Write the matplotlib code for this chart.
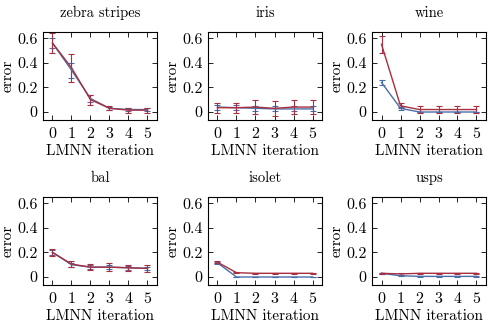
import numpy as np
import matplotlib
matplotlib.use("Agg")
import matplotlib.pyplot as plt

plt.rcParams['font.family'] = 'serif'
plt.rcParams['font.serif'] = ['cmr10', 'DejaVu Serif']
plt.rcParams['axes.formatter.use_mathtext'] = True

iterations = [0, 1, 2, 3, 4, 5]
titles = ['zebra stripes', 'iris', 'wine', 'bal', 'isolet', 'usps']

blue_mean = [
    [0.56, 0.34, 0.11, 0.03, 0.02, 0.02],
    [0.04, 0.035, 0.03, 0.025, 0.025, 0.025],
    [0.24, 0.03, 0.0, 0.0, 0.0, 0.0],
    [0.20, 0.10, 0.08, 0.08, 0.075, 0.07],
    [0.115, 0.0, 0.0, 0.0, 0.0, 0.0],
    [0.03, 0.01, 0.005, 0.005, 0.005, 0.005],
]
blue_err = [
    [0.04, 0.06, 0.03, 0.012, 0.01, 0.01],
    [0.02, 0.02, 0.02, 0.02, 0.02, 0.02],
    [0.02, 0.01, 0.0, 0.0, 0.0, 0.0],
    [0.02, 0.015, 0.015, 0.015, 0.015, 0.015],
    [0.008, 0.0, 0.0, 0.0, 0.0, 0.0],
    [0.003, 0.003, 0.002, 0.002, 0.002, 0.002],
]
red_mean = [
    [0.56, 0.36, 0.10, 0.03, 0.015, 0.015],
    [0.035, 0.035, 0.04, 0.03, 0.04, 0.04],
    [0.55, 0.05, 0.02, 0.02, 0.02, 0.02],
    [0.20, 0.105, 0.08, 0.08, 0.075, 0.07],
    [0.12, 0.035, 0.03, 0.03, 0.03, 0.03],
    [0.03, 0.025, 0.03, 0.03, 0.03, 0.03],
]
red_err = [
    [0.08, 0.115, 0.04, 0.015, 0.02, 0.02],
    [0.04, 0.04, 0.055, 0.06, 0.055, 0.055],
    [0.07, 0.02, 0.025, 0.025, 0.025, 0.025],
    [0.03, 0.025, 0.025, 0.03, 0.025, 0.03],
    [0.01, 0.006, 0.005, 0.005, 0.005, 0.005],
    [0.005, 0.005, 0.005, 0.005, 0.005, 0.005],
]

blue = '#4a6fa8'
red = '#a82e40'

fig = plt.figure(figsize=(4.89, 3.25), dpi=100)
lefts = [43, 208, 372]
tops = [32, 197]
w, h = 114, 88

for i, title in enumerate(titles):
    r, c = divmod(i, 3)
    ax = fig.add_axes([lefts[c] / 489, 1 - (tops[r] + h) / 325, w / 489, h / 325])
    ax.errorbar(iterations, blue_mean[i], yerr=blue_err[i], color=blue, lw=1.0,
                capsize=2.2, elinewidth=0.8, capthick=0.8)
    ax.errorbar(iterations, red_mean[i], yerr=red_err[i], color=red, lw=1.0,
                capsize=2.2, elinewidth=0.8, capthick=0.8)
    ax.set_xlim(-0.5, 5.5)
    ax.set_ylim(-0.065, 0.65)
    ax.set_xticks(iterations)
    ax.set_yticks([0, 0.2, 0.4, 0.6])
    ax.set_yticklabels(['0', '0.2', '0.4', '0.6'])
    ax.tick_params(direction='in', top=True, right=True, length=3.5, width=0.6,
                   labelsize=11.5, pad=4)
    for s in ax.spines.values():
        s.set_linewidth(0.8)
    ax.set_title(title, fontsize=10.5, pad=11)
    ax.set_xlabel('LMNN iteration', fontsize=11, labelpad=3)
    ax.set_ylabel('error', fontsize=11, labelpad=2)

fig.savefig('out.png', dpi=100)
